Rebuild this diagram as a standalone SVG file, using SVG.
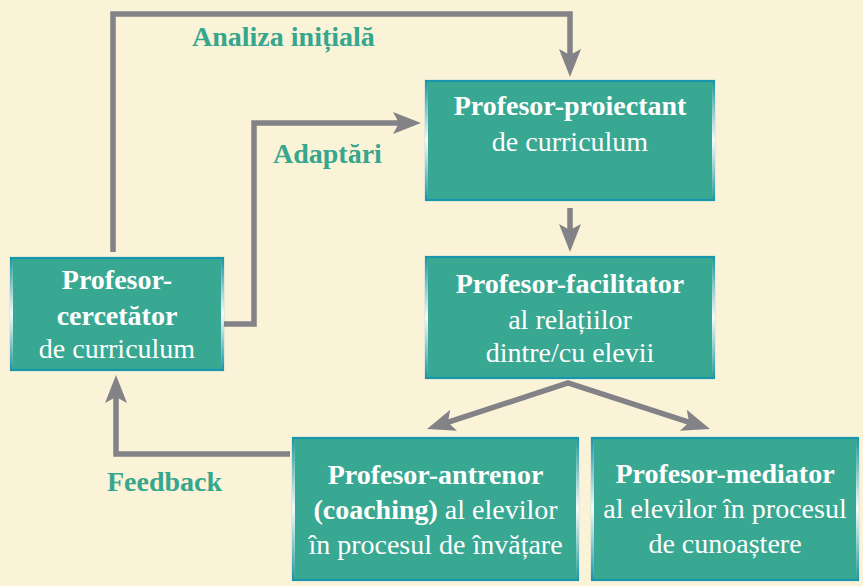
<svg xmlns="http://www.w3.org/2000/svg" width="863" height="586" viewBox="0 0 863 586">
<style>
.box{fill:#38a892;stroke:#1894ad;stroke-width:2.2}
.t{font-family:"Liberation Serif","Times New Roman",serif;font-size:28px;fill:#ffffff;text-anchor:middle}
.b{font-weight:bold}
.lbl{font-family:"Liberation Serif","Times New Roman",serif;font-size:28px;font-weight:bold;fill:#36a68d}
.c{fill:none;stroke:#838387;stroke-width:5.5;stroke-linejoin:miter}
.hl{fill:url(#glow)}
</style>
<defs>
<linearGradient id="glow" x1="0" y1="0" x2="0" y2="1">
<stop offset="0" stop-color="#ffffff" stop-opacity="0"/>
<stop offset="0.5" stop-color="#ffffff" stop-opacity="0.95"/>
<stop offset="1" stop-color="#ffffff" stop-opacity="0"/>
</linearGradient>
<marker id="ah" markerUnits="userSpaceOnUse" markerWidth="40" markerHeight="30" viewBox="0 -15 40 30" refX="8" refY="0" orient="auto-start-reverse">
<path d="M0,-11 L28,0 L0,11 L6,0 Z" fill="#838387"/>
</marker>
</defs>
<rect width="863" height="586" fill="#fbf3d8"/>
<g id="connectors">
<path class="c" d="M113,252 V14 H570 V57" marker-end="url(#ah)"/>
<path class="c" d="M223,324 H254 V123 H401" marker-end="url(#ah)"/>
<path class="c" d="M570,208 V232" marker-end="url(#ah)"/>
<path class="c" d="M446,422.8 L568,383 L691,422.8" marker-start="url(#ah)" marker-end="url(#ah)"/>
<path class="c" d="M290,454 H116 V395" marker-end="url(#ah)"/>
</g>
<g id="labels">
<text class="lbl" x="192" y="46">Analiza inițială</text>
<text class="lbl" x="273" y="163">Adaptări</text>
<text class="lbl" x="107" y="491">Feedback</text>
</g>
<g id="proiectant">
<rect class="box" x="426" y="81" width="288" height="119"/>
<rect class="hl" x="425" y="81" width="3" height="119"/>
<rect class="hl" x="712" y="81" width="3" height="119"/>
<text class="t" x="570" y="115"><tspan class="b">Profesor-proiectant</tspan><tspan x="570" dy="36">de curriculum</tspan></text>
</g>
<g id="facilitator">
<rect class="box" x="426" y="257" width="288" height="121"/>
<rect class="hl" x="425" y="257" width="3" height="121"/>
<rect class="hl" x="712" y="257" width="3" height="121"/>
<text class="t" x="570" y="293"><tspan class="b">Profesor-facilitator</tspan><tspan x="570" dy="36">al relațiilor</tspan><tspan x="570" dy="33">dintre/cu elevii</tspan></text>
</g>
<g id="cercetator">
<rect class="box" x="11" y="258" width="212" height="112"/>
<rect class="hl" x="10" y="258" width="3" height="112"/>
<rect class="hl" x="221" y="258" width="3" height="112"/>
<text class="t" x="117" y="289"><tspan class="b">Profesor-</tspan><tspan class="b" x="117" dy="36">cercetător</tspan><tspan x="117" dy="33">de curriculum</tspan></text>
</g>
<g id="antrenor">
<rect class="box" x="293" y="438" width="285" height="142"/>
<rect class="hl" x="292" y="438" width="3" height="142"/>
<rect class="hl" x="576" y="438" width="3" height="142"/>
<text class="t" x="435.5" y="484"><tspan class="b">Profesor-antrenor</tspan><tspan x="435.5" dy="35"><tspan class="b">(coaching)</tspan> al elevilor</tspan><tspan x="435.5" dy="35">în procesul de învățare</tspan></text>
</g>
<g id="mediator">
<rect class="box" x="592" y="438" width="266" height="142"/>
<rect class="hl" x="591" y="438" width="3" height="142"/>
<rect class="hl" x="856" y="438" width="3" height="142"/>
<text class="t" x="725" y="483"><tspan class="b">Profesor-mediator</tspan><tspan x="725" dy="35">al elevilor în procesul</tspan><tspan x="725" dy="35">de cunoaștere</tspan></text>
</g>
</svg>
